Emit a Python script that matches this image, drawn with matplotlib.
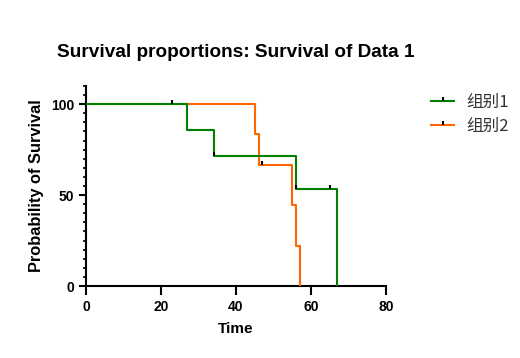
import matplotlib.pyplot as plt
from matplotlib.lines import Line2D
from matplotlib.ticker import MultipleLocator

plt.rcParams['font.family'] = ['Liberation Sans', 'Noto Sans CJK SC', 'DejaVu Sans']

# Kaplan-Meier step data (time, survival %)
g1_time = [0, 27, 34, 56, 67]
g1_surv = [100, 85.71, 71.43, 53.57, 0]
g1_cens_time = [23, 34, 56, 65]
g1_cens_surv = [100, 71.43, 53.57, 53.57]

g2_time = [0, 45, 46, 55, 56, 57]
g2_surv = [100, 83.33, 66.67, 44.44, 22.22, 0]
g2_cens_time = [47]
g2_cens_surv = [66.67]

labels = ["组别1", "组别2"]
green = "#008000"
orange = "#FF6600"

fig = plt.figure(figsize=(5.2, 3.58), dpi=100)
ax = fig.add_axes([86 / 520, 1 - 286 / 358, 300 / 520, 200 / 358])

ax.step(g2_time, g2_surv, where='post', color=orange, lw=1.5, zorder=3)
ax.step(g1_time, g1_surv, where='post', color=green, lw=1.5, zorder=3.5)
ax.plot(g1_cens_time, g1_cens_surv, ls='none', marker=2, ms=3, mew=1.5, color='black', zorder=4)
ax.plot(g2_cens_time, g2_cens_surv, ls='none', marker=2, ms=3, mew=1.5, color='black', zorder=4)

ax.set_xlim(0, 80)
ax.set_ylim(0, 110)
ax.set_xticks([0, 20, 40, 60, 80])
ax.set_yticks([0, 50, 100])
ax.yaxis.set_minor_locator(MultipleLocator(5))
ax.spines['top'].set_visible(False)
ax.spines['right'].set_visible(False)
for s in ['left', 'bottom']:
    ax.spines[s].set_linewidth(1.5)
ax.tick_params(axis='x', which='major', width=1.5, length=6.5, labelsize=10)
ax.tick_params(axis='y', which='major', width=1.5, length=5, labelsize=10)
ax.tick_params(axis='y', which='minor', width=1.2, length=2.5)
for lab in ax.get_xticklabels() + ax.get_yticklabels():
    lab.set_fontweight('bold')

ax.set_xlabel("Time", fontsize=11, fontweight='bold', labelpad=6)
ax.set_ylabel("Probability of Survival", fontsize=11.8, fontweight='bold', labelpad=5)
ax.set_title("Survival proportions: Survival of Data 1", fontsize=13.7, fontweight='bold', pad=21)

handles = [
    Line2D([], [], color=green, lw=1.5, marker=2, ms=3, mew=1.5, mec='black'),
    Line2D([], [], color=orange, lw=1.5, marker=2, ms=3, mew=1.5, mec='black'),
]
leg = fig.legend(handles, labels, loc='upper left', bbox_to_anchor=(416 / 520, 1 - 79 / 358),
                 frameon=False, handlelength=1.4, handletextpad=0.7, labelspacing=0.4,
                 prop={'family': ['Noto Sans CJK SC', 'DejaVu Sans'], 'size': 12})
for t in leg.get_texts():
    t.set_color('#333333')

fig.savefig("out.png", dpi=100)
